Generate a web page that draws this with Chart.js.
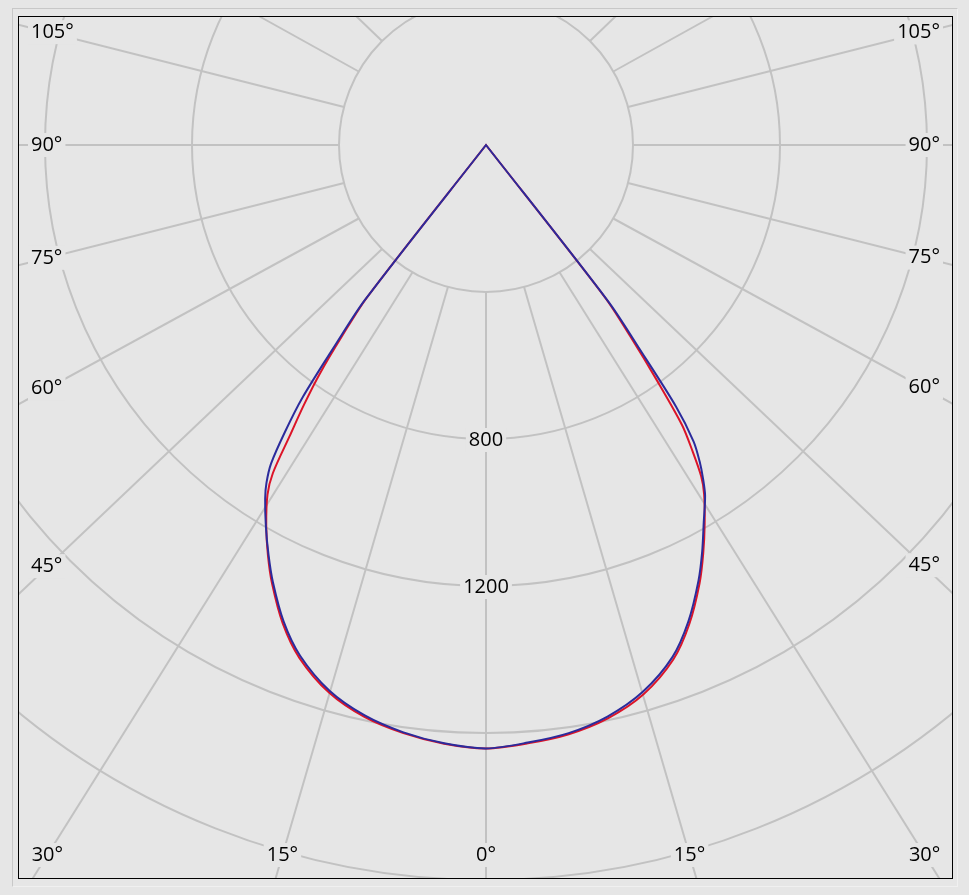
<!DOCTYPE html>
<html>
<head>
<meta charset="utf-8">
<script src="https://cdn.jsdelivr.net/npm/chart.js@4.4.0/dist/chart.umd.min.js"></script>
<style>
  body { margin: 0; background: #e6e6e6; }
  #panel {
    position: absolute; left: 12px; top: 8px; width: 944px; height: 877px;
    border-top: 1px solid #c8c8c8; border-left: 1px solid #c8c8c8;
    border-right: 1px solid #f0f0f0; border-bottom: 1px solid #f0f0f0;
  }
  #frame {
    position: absolute; left: 18px; top: 16px; width: 933px; height: 861px;
    border: 1px solid #000; overflow: hidden; background: #e6e6e6;
  }
  #frame canvas { position: absolute; }
</style>
</head>
<body>
<div id="panel"></div>
<div id="frame"><canvas id="polar" width="1764" height="1764"></canvas></div>
<script>
// Luminous intensity (cd) against gamma angle, one half-plane per array
const gammaDeg  = [0, 4, 8, 12, 16, 20, 23, 26, 28, 30, 32, 33, 34, 35, 36, 37, 38, 39];
const redLeft   = [1642, 1633, 1616, 1591, 1550, 1485, 1415, 1328, 1264, 1196, 1122, 1065, 955, 865, 770, 650, 525, 0];
const redRight  = [1642, 1632, 1619, 1595, 1555, 1490, 1416, 1326, 1259, 1190, 1120, 1075, 1005, 930, 790, 655, 525, 0];
const blueLeft  = [1642, 1632, 1614, 1587, 1545, 1479, 1409, 1323, 1261, 1198, 1134, 1097, 1046, 955, 850, 680, 535, 0];
const blueRight = [1642, 1630, 1616, 1590, 1548, 1483, 1409, 1319, 1253, 1185, 1125, 1085, 1040, 985, 880, 690, 540, 0];

// axis labels
const radialTicks = [800, 1200];
const angleTicks = [0, 15, 30, 45, 60, 75, 90, 105];
const angleLines = [0, 15, 30, 45, 60, 75, 90, 105, 120, 135, 150, 165, 180];

const CENTER_X = 467, CENTER_Y = 128;   // chart centre inside the frame
const SPREAD_SIDE = 1.04;               // outer labels sit a bit wider than the true angle
const SPREAD_BOTTOM = 1.07;
const GRID = '#c2c2c2';
const BG = '#e6e6e6';
const FONT = '20px "Open Sans", "Noto Sans", sans-serif';

// one radar slot per degree, 0 at the bottom, going round clockwise
const STEPS = 360;
const slots = Array.from({ length: STEPS }, (_, i) => String(i));

function toSlots(left, right) {
    const out = new Array(STEPS).fill(null);
    gammaDeg.forEach((g, k) => {
        out[g] = left[k];
        out[(STEPS - g) % STEPS] = right[k];
    });
    return out;
}

// where a (slightly widened) ray from the centre meets the label box
function rayHit(cx, cy, g, side, box) {
    const a = g * Math.PI / 180;
    let dx = side * SPREAD_SIDE * Math.sin(a);
    const dy = Math.cos(a);
    let tx = Infinity, ty = Infinity;
    if (dx < -1e-9) tx = (box.l - cx) / dx;
    if (dx > 1e-9) tx = (box.r - cx) / dx;
    if (dy > 1e-9) ty = (box.b - cy) / dy;
    if (dy < -1e-9) ty = (box.t - cy) / dy;
    if (tx < ty) return { x: cx + tx * dx, y: cy + tx * dy, onSide: true };
    dx = side * SPREAD_BOTTOM * Math.sin(a);
    return { x: cx + ty * dx, y: cy + ty * dy, onSide: false };
}

function labelBox(ctx, text, x, y, align) {
    const w = ctx.measureText(text).width;
    let x0 = x;
    if (align === 'center') x0 = x - w / 2;
    if (align === 'right') x0 = x - w;
    ctx.fillStyle = BG;
    ctx.fillRect(x0 - 3, y - 12, w + 6, 24);
    ctx.fillStyle = '#000';
    ctx.textAlign = align;
    ctx.textBaseline = 'middle';
    ctx.fillText(text, x, y);
}

const polarFrame = {
    id: 'polarFrame',
    beforeDatasetsDraw(chart) {
        const scale = chart.scales.r;
        const ctx = chart.ctx;
        const cv = chart.canvas;
        const left = -cv.offsetLeft, top = -cv.offsetTop;
        const right = left + cv.parentNode.clientWidth;
        const bottom = top + cv.parentNode.clientHeight;
        const cx = scale.xCenter, cy = scale.yCenter;
        const inner = scale.getDistanceFromCenterForValue(400);
        const box = { l: left + 29, r: right - 29, t: top + 10, b: bottom - 23 };
        const far = scale.drawingArea * 3;

        ctx.save();
        // spokes from the inner ring out to the frame
        ctx.strokeStyle = GRID;
        ctx.lineWidth = 2;
        angleLines.forEach(g => {
            [-1, 1].forEach(side => {
                if (side === 1 && (g === 0 || g === 180)) return;
                const a = g * Math.PI / 180;
                const px = cx + side * inner * Math.sin(a);
                const py = cy + inner * Math.cos(a);
                let ex, ey;
                if (angleTicks.includes(g)) {
                    const h = rayHit(cx, cy, g, side, box);
                    const len = Math.hypot(h.x - px, h.y - py);
                    ex = px + (h.x - px) / len * far;
                    ey = py + (h.y - py) / len * far;
                } else {
                    ex = px + side * SPREAD_SIDE * Math.sin(a) * far;
                    ey = py + Math.cos(a) * far;
                }
                ctx.beginPath();
                ctx.moveTo(px, py);
                ctx.lineTo(ex, ey);
                ctx.stroke();
            });
        });

        ctx.font = FONT;
        // gamma labels along the frame
        angleTicks.forEach(g => {
            [-1, 1].forEach(side => {
                if (side === 1 && g === 0) return;
                const h = rayHit(cx, cy, g, side, box);
                const text = g + '°';
                if (!h.onSide) labelBox(ctx, text, h.x, h.y, 'center');
                else if (side < 0) labelBox(ctx, text, left + 12, h.y, 'left');
                else labelBox(ctx, text, right - 12, h.y, 'right');
            });
        });

        // intensity labels down the 0° spoke
        radialTicks.forEach(v => {
            const p = scale.getPointPositionForValue(0, v);
            labelBox(ctx, String(v), p.x, p.y + 1, 'center');
        });
        ctx.restore();
    }
};

const canvas = document.getElementById('polar');
canvas.style.left = (CENTER_X - canvas.width / 2) + 'px';
canvas.style.top = (CENTER_Y - canvas.height / 2) + 'px';

const chart = new Chart(canvas, {
    type: 'radar',
    data: {
        labels: slots,
        datasets: [
            {
                label: 'C90-C270',
                data: toSlots(blueLeft, blueRight),
                borderColor: '#2b2b9c',
                borderWidth: 2,
                pointRadius: 0,
                fill: false,
                spanGaps: true,
                tension: 0.3
            },
            {
                label: 'C0-C180',
                data: toSlots(redLeft, redRight),
                borderColor: '#dc1428',
                borderWidth: 2,
                pointRadius: 0,
                fill: false,
                spanGaps: true,
                tension: 0.3
            }
        ]
    },
    options: {
        responsive: false,
        animation: false,
        events: [],
        plugins: {
            legend: { display: false },
            tooltip: { enabled: false }
        },
        scales: {
            r: {
                min: 0,
                max: 2400,
                startAngle: 180,
                ticks: { display: false, stepSize: 400 },
                grid: { circular: true, color: GRID, lineWidth: 2 },
                angleLines: { display: false },
                pointLabels: { display: false }
            }
        }
    },
    plugins: [polarFrame]
});

// put the scale centre on the spot the reference uses
const r = chart.scales.r;
canvas.style.left = (CENTER_X - r.xCenter) + 'px';
canvas.style.top = (CENTER_Y - r.yCenter) + 'px';
chart.draw();
</script>
</body>
</html>
